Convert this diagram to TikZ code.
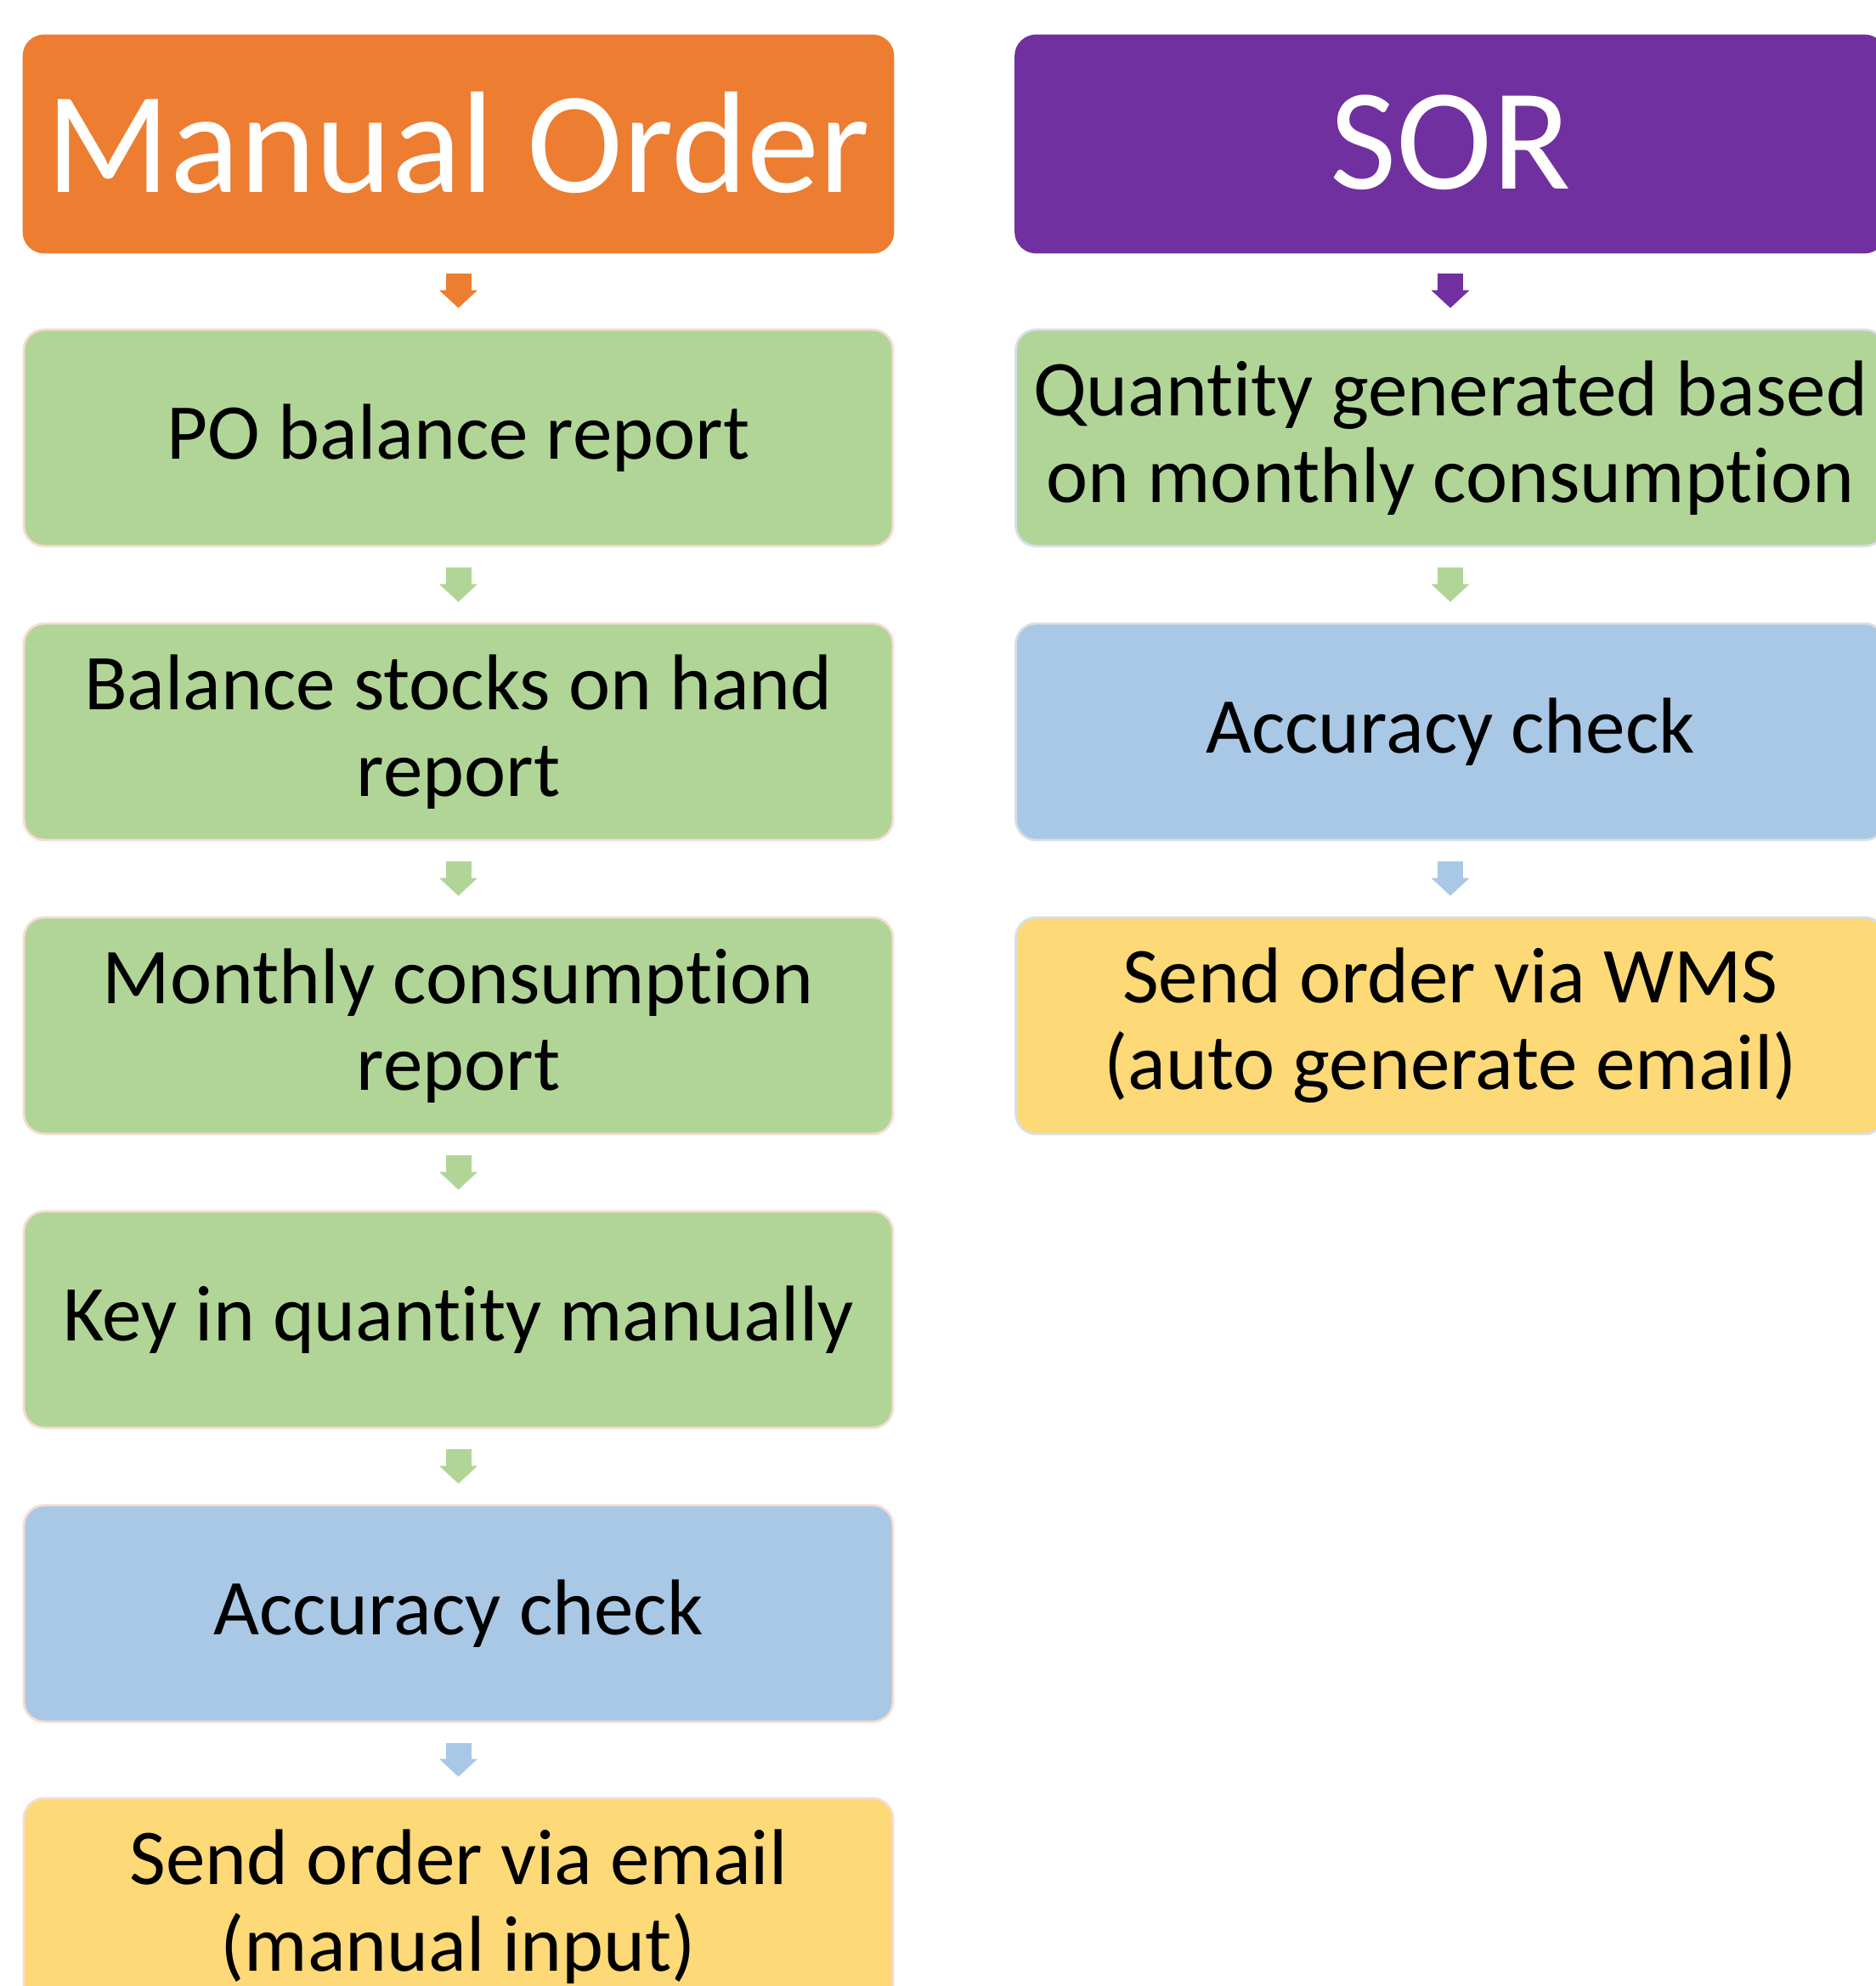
\documentclass[tikz,border=0pt]{standalone}
\usepackage{fontspec}
\setmainfont{Carlito}[RawFeature={-liga;-calt;-dlig;-clig}]
\usetikzlibrary{arrows.meta}

\definecolor{ordorange}{HTML}{ED7D31}
\definecolor{sorpurple}{HTML}{7030A0}
\definecolor{stepgreen}{HTML}{B1D597}
\definecolor{checkblue}{HTML}{A8C8E6}
\definecolor{sendyellow}{HTML}{FDD977}
\definecolor{leftedge}{HTML}{F6DCD3}
\definecolor{rightedge}{HTML}{D9DFE8}

\tikzset{
  box/.style={rounded corners=0.24cm, minimum width=10.23cm, minimum height=2.55cm,
    inner sep=0pt, align=center, line width=0.8pt,
    font=\fontsize{26.5}{29}\selectfont},
  head/.style={box, text=white, font=\fontsize{48.5}{52}\selectfont},
  down/.style={line width=0.3cm, -{Triangle[length=0.21cm,width=0.44cm]}}
}

\begin{document}
\begin{tikzpicture}
\useasboundingbox (0,0) rectangle (22.07,-23.38);

% manual order column
\node[head, fill=ordorange, draw=ordorange] (mo) at (5.395,-1.695) {\raisebox{1.5pt}{Manual Order}};
\node[box, fill=stepgreen, draw=leftedge] (po) at (5.395,-5.155) {PO balance report};
\node[box, fill=stepgreen, draw=leftedge] (bal) at (5.395,-8.615) {Balance stocks on hand\\report};
\node[box, fill=stepgreen, draw=leftedge] (mon) at (5.395,-12.075) {Monthly consumption\\report};
\node[box, fill=stepgreen, draw=leftedge] (key) at (5.395,-15.535) {Key in quantity manually};
\node[box, fill=checkblue, draw=leftedge] (acc) at (5.395,-18.995) {Accuracy check};
\node[box, fill=sendyellow, draw=leftedge] (send) at (5.395,-22.445) {Send order via email\\(manual input)};

% SOR column
\node[head, fill=sorpurple, draw=sorpurple] (sor) at (17.07,-1.695) {\raisebox{1.5pt}{SOR}};
\node[box, fill=stepgreen, draw=rightedge] (qty) at (17.07,-5.155) {Quantity generated based\\on monthly consumption};
\node[box, fill=checkblue, draw=rightedge] (sacc) at (17.07,-8.615) {Accuracy check};
\node[box, fill=sendyellow, draw=rightedge] (ssend) at (17.07,-12.075) {Send order via WMS\\(auto generate email)};

% arrows
\draw[down, ordorange] ([yshift=-0.24cm]mo.south) -- ([yshift=0.24cm]po.north);
\draw[down, stepgreen] ([yshift=-0.24cm]po.south) -- ([yshift=0.24cm]bal.north);
\draw[down, stepgreen] ([yshift=-0.24cm]bal.south) -- ([yshift=0.24cm]mon.north);
\draw[down, stepgreen] ([yshift=-0.24cm]mon.south) -- ([yshift=0.24cm]key.north);
\draw[down, stepgreen] ([yshift=-0.24cm]key.south) -- ([yshift=0.24cm]acc.north);
\draw[down, checkblue] ([yshift=-0.24cm]acc.south) -- ([yshift=0.24cm]send.north);

\draw[down, sorpurple] ([yshift=-0.24cm]sor.south) -- ([yshift=0.24cm]qty.north);
\draw[down, stepgreen] ([yshift=-0.24cm]qty.south) -- ([yshift=0.24cm]sacc.north);
\draw[down, checkblue] ([yshift=-0.24cm]sacc.south) -- ([yshift=0.24cm]ssend.north);
\end{tikzpicture}
\end{document}
